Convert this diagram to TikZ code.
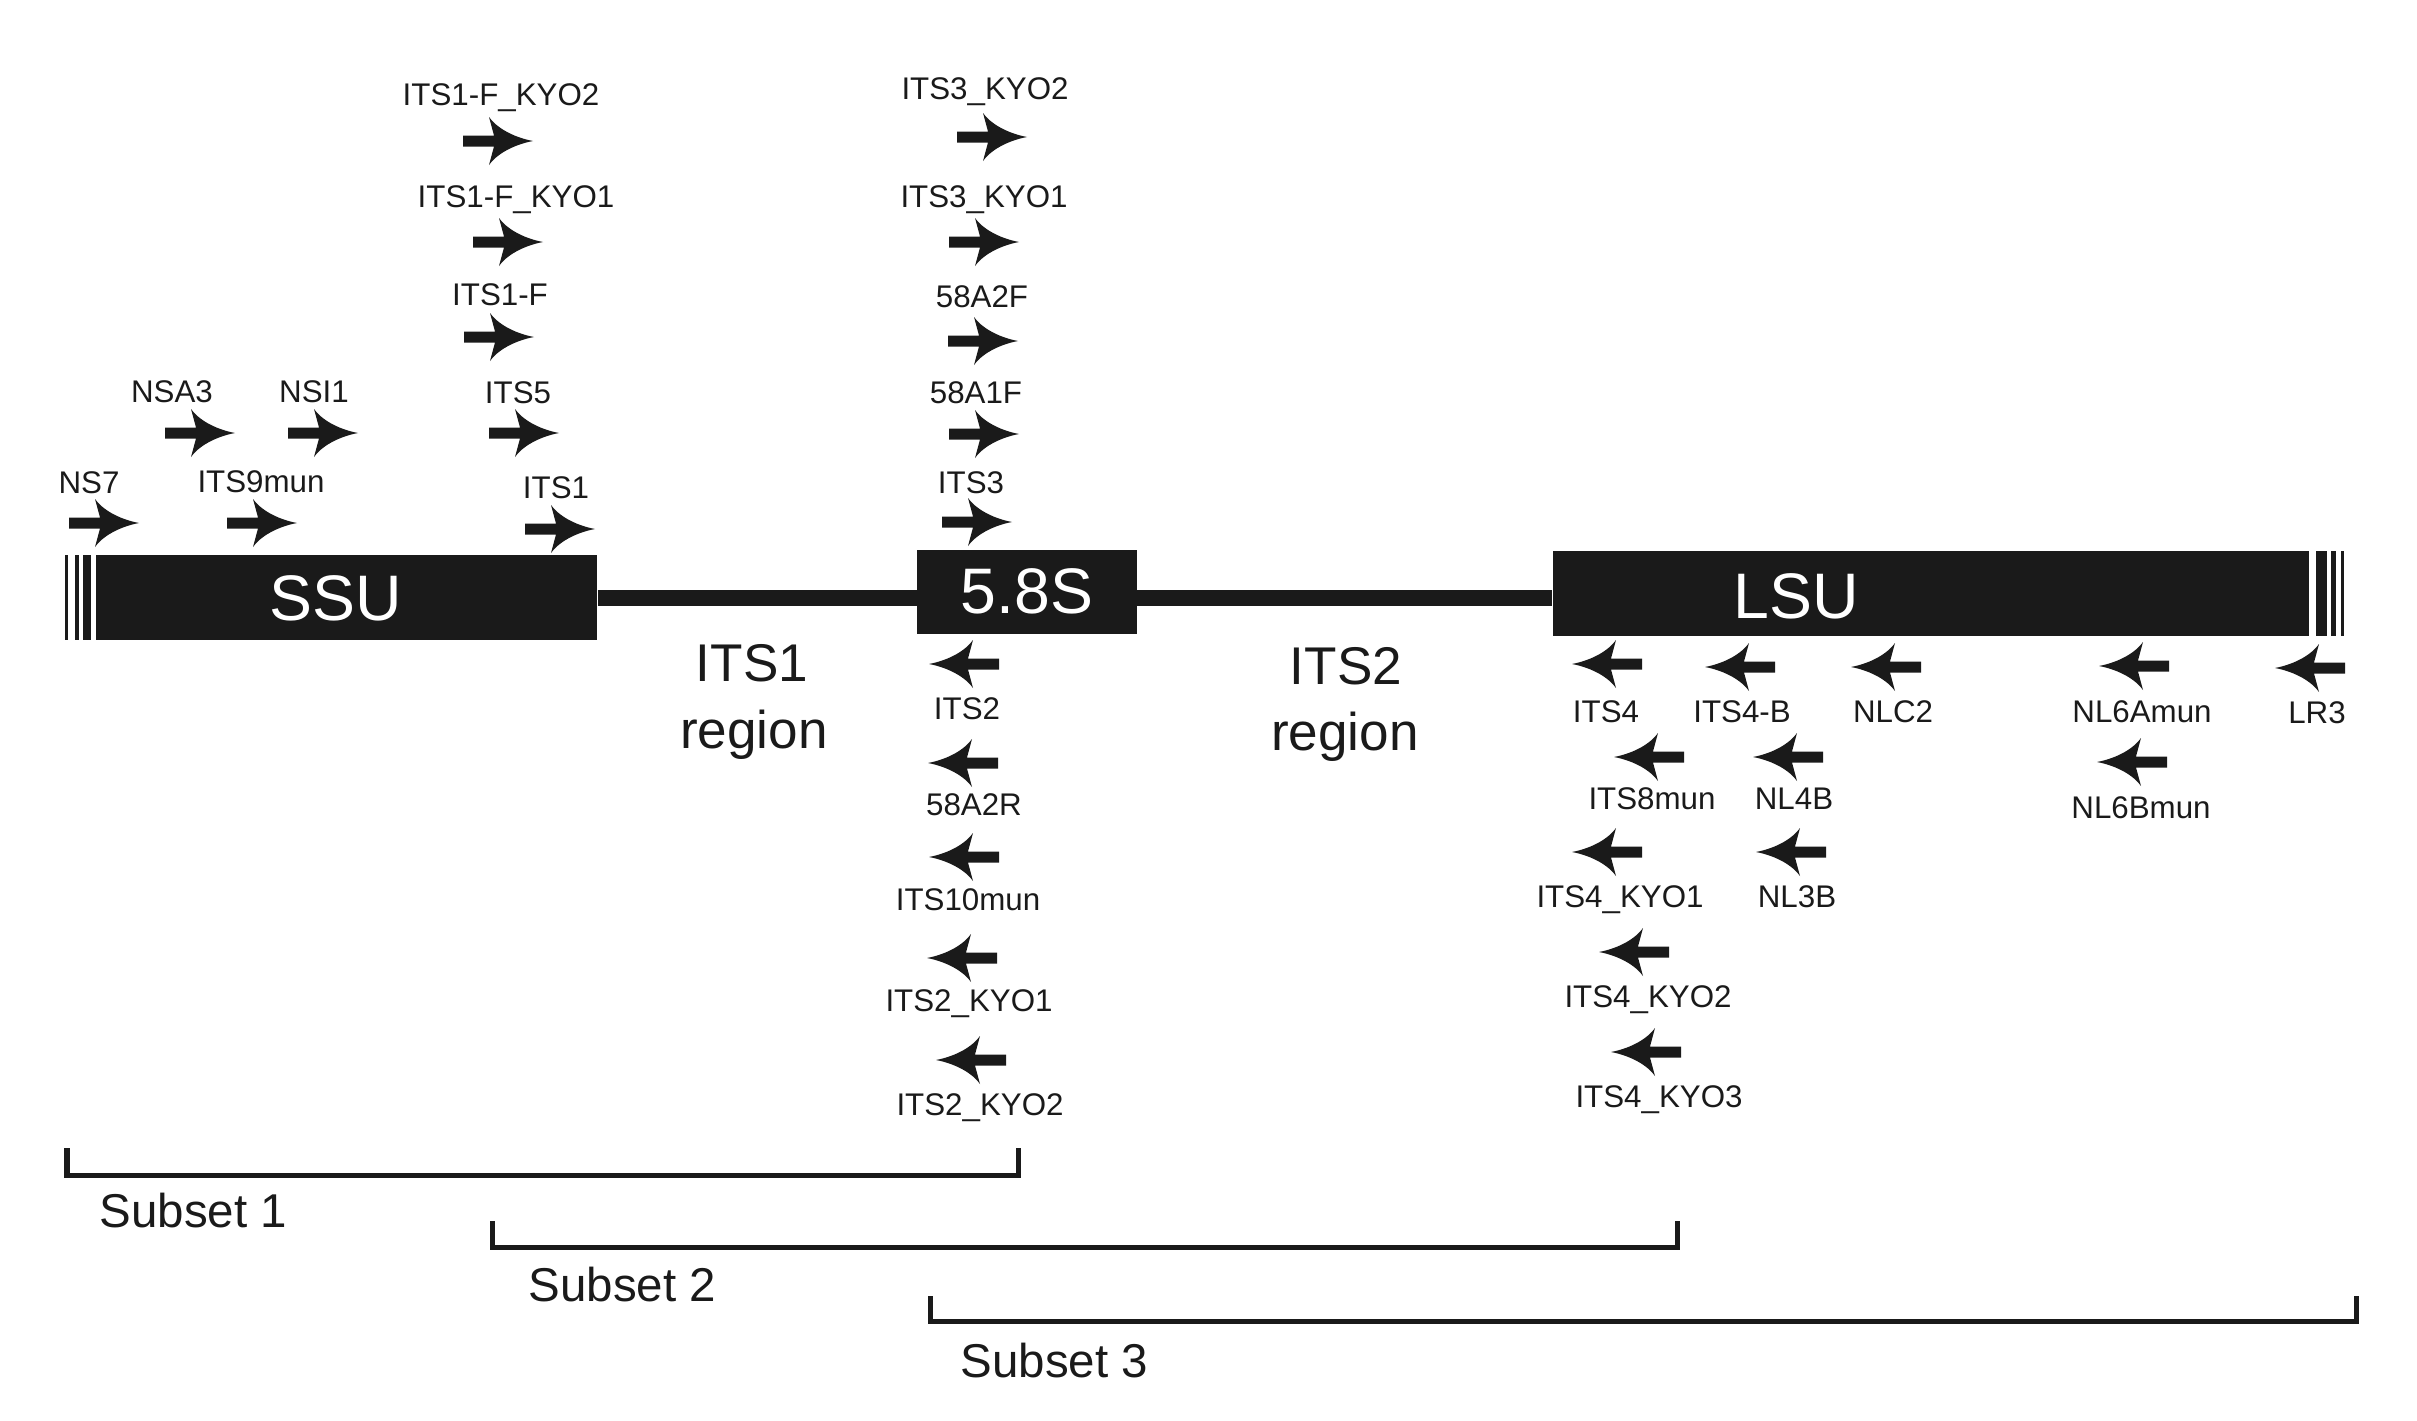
\documentclass[tikz,border=0pt]{standalone}
\usepackage{fontspec}
\setmainfont{Liberation Sans}
\definecolor{ink}{HTML}{1A1A1A}
\tikzset{
  fwd/.pic={\fill[ink] (-35,-5.5) -- (-4,-5.5) -- (-9,-24)
    .. controls (-2,-14) and (14,-4) .. (35,0)
    .. controls (14,4) and (-2,14) .. (-9,24) -- (-4,5.5) -- (-35,5.5) -- cycle;},
  rev/.pic={\fill[ink] (35,-5.5) -- (4,-5.5) -- (9,-24)
    .. controls (2,-14) and (-14,-4) .. (-35,0)
    .. controls (-14,4) and (2,14) .. (9,24) -- (4,5.5) -- (35,5.5) -- cycle;},
  primer/.style={inner sep=0pt, anchor=base, text=ink, font=\fontsize{8.9}{10}\selectfont},
  gene/.style={fill=ink, inner sep=0pt, minimum height=0.85cm},
  genename/.style={inner sep=0pt, anchor=base, text=white, font=\fontsize{18.3}{22}\selectfont},
  region/.style={inner sep=0pt, anchor=base, text=ink, font=\fontsize{15.1}{18}\selectfont},
  subset/.style={inner sep=0pt, anchor=base west, text=ink, font=\fontsize{13.5}{16}\selectfont},
  bracket/.style={draw=ink, line width=0.05cm},
  backbone/.style={draw=ink, line width=0.16cm}
}
\begin{document}
\begin{tikzpicture}[x=0.01cm, y=-0.01cm]
  \useasboundingbox (0,0) rectangle (2417,1421);

  % rDNA
  \node[gene, minimum width=5.01cm] (ssu) at (346.5,597.5) {};
  \node[gene, minimum width=2.20cm, minimum height=0.84cm] (s58) at (1027,592) {};
  \node[gene, minimum width=7.56cm] (lsu) at (1931,593.5) {};
  \draw[backbone] (ssu.east) -- (ssu.east -| lsu.west);
  \fill[ink] (64.5,555) rectangle (67.7,640);
  \fill[ink] (74.8,555) rectangle (79.3,640);
  \fill[ink] (83.3,555) rectangle (91.3,640);
  \fill[ink] (2316,551) rectangle (2327,636);
  \fill[ink] (2331,551) rectangle (2336,636);
  \fill[ink] (2341,551) rectangle (2343.5,636);
  \node[genename] (ssutxt) at (336,620) {SSU};
  \node[genename] (s58txt) at (1027,613) {5.8S};
  \node[genename] (lsutxt) at (1796,618) {LSU};
  \node[region] (its1a) at (752,681) {ITS1};
  \node[region] (its1b) at (754,748) {region};
  \node[region] (its2a) at (1346,684) {ITS2};
  \node[region] (its2b) at (1345,750) {region};

  % forward primers
  \pic at (104,523) {fwd};  \node[primer] (ns7) at (89,493) {NS7};
  \pic at (262,523) {fwd};  \node[primer] (its9mun) at (261,492) {ITS9mun};
  \pic at (560,529) {fwd};  \node[primer] (its1) at (556,498) {ITS1};
  \pic at (200,433) {fwd};  \node[primer] (nsa3) at (172,402) {NSA3};
  \pic at (323,433) {fwd};  \node[primer] (nsi1) at (314,402) {NSI1};
  \pic at (524,433) {fwd};  \node[primer] (its5) at (518,403) {ITS5};
  \pic at (499,337) {fwd};  \node[primer] (its1f) at (500,305) {ITS1-F};
  \pic at (508,242) {fwd};  \node[primer] (its1fk1) at (516,207) {ITS1-F\_KYO1};
  \pic at (498,141) {fwd};  \node[primer] (its1fk2) at (501,105) {ITS1-F\_KYO2};
  \pic at (992,137) {fwd};  \node[primer] (its3k2) at (985,100) {ITS3\_KYO2};
  \pic at (984,242) {fwd};  \node[primer] (its3k1) at (984,207) {ITS3\_KYO1};
  \pic at (983,341) {fwd};  \node[primer] (a2f) at (982,307) {58A2F};
  \pic at (984,434) {fwd};  \node[primer] (a1f) at (976,403) {58A1F};
  \pic at (977,522) {fwd};  \node[primer] (its3) at (971,493) {ITS3};

  % reverse primers
  \pic at (964,664) {rev};   \node[primer] (its2) at (967,719) {ITS2};
  \pic at (963,763) {rev};   \node[primer] (a2r) at (974,815) {58A2R};
  \pic at (964,857) {rev};   \node[primer] (its10mun) at (968,910) {ITS10mun};
  \pic at (962,958) {rev};   \node[primer] (its2k1) at (969,1011) {ITS2\_KYO1};
  \pic at (971,1060) {rev};  \node[primer] (its2k2) at (980,1115) {ITS2\_KYO2};
  \pic at (1607,664) {rev};  \node[primer] (its4) at (1606,722) {ITS4};
  \pic at (1740,667) {rev};  \node[primer] (its4b) at (1742,722) {ITS4-B};
  \pic at (1886,667) {rev};  \node[primer] (nlc2) at (1893,722) {NLC2};
  \pic at (2134,666) {rev};  \node[primer] (nl6a) at (2142,722) {NL6Amun};
  \pic at (2310,668) {rev};  \node[primer] (lr3) at (2317,723) {LR3};
  \pic at (1649,757) {rev};  \node[primer] (its8mun) at (1652,809) {ITS8mun};
  \pic at (1788,757) {rev};  \node[primer] (nl4b) at (1794,809) {NL4B};
  \pic at (2132,762) {rev};  \node[primer] (nl6b) at (2141,818) {NL6Bmun};
  \pic at (1607,852) {rev};  \node[primer] (its4k1) at (1620,907) {ITS4\_KYO1};
  \pic at (1791,852) {rev};  \node[primer] (nl3b) at (1797,907) {NL3B};
  \pic at (1634,952) {rev};  \node[primer] (its4k2) at (1648,1007) {ITS4\_KYO2};
  \pic at (1646,1052) {rev}; \node[primer] (its4k3) at (1659,1107) {ITS4\_KYO3};

  % subsets
  \draw[bracket] (67,1148) |- (1018,1175) -- (1018,1148);
  \draw[bracket] (492,1221) |- (1677,1247) -- (1677,1221);
  \draw[bracket] (930,1296) |- (2356,1321) -- (2356,1296);
  \node[subset] (sub1) at (99,1227) {Subset 1};
  \node[subset] (sub2) at (528,1301) {Subset 2};
  \node[subset] (sub3) at (960,1377) {Subset 3};
\end{tikzpicture}
\end{document}
